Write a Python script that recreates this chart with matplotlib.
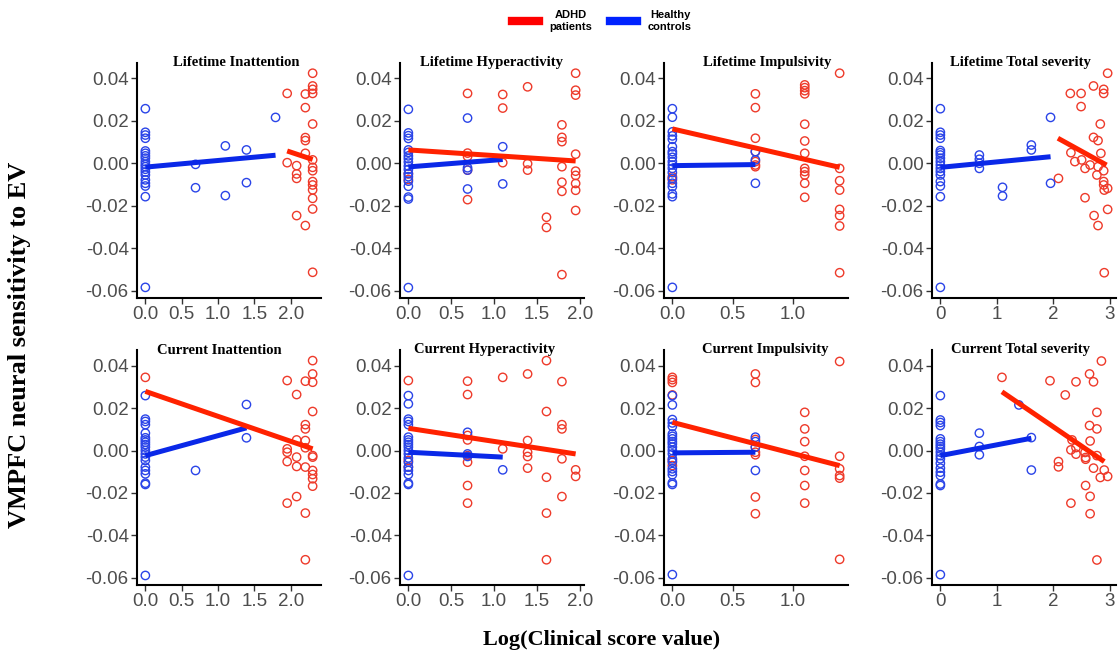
import matplotlib
matplotlib.use("Agg")
import matplotlib.pyplot as plt
from matplotlib.lines import Line2D

# ---------------- data ----------------
titles = ["Lifetime Inattention", "Lifetime Hyperactivity", "Lifetime Impulsivity",
          "Lifetime Total severity", "Current Inattention", "Current Hyperactivity",
          "Current Impulsivity", "Current Total severity"]

# Lifetime Inattention
li_in_hc_x = [0, 0, 0, 0, 0, 0, 0, 0, 0, 0, 0, 0, 0, 0, 0, 0, 0, 0, 0,
              0.69, 0.69, 1.10, 1.10, 1.39, 1.39, 1.79]
li_in_hc_y = [25.7, 14.6, 13.3, 11.8, 5.8, 4.7, 3.5, 2.4, 0.8, -0.5, -1.6, -2.8, -4.1, -5.5,
              -7.8, -9.4, -10.7, -15.7, -58.4, -0.5, -11.5, 8.2, -15.2, 6.3, -9.1, 21.6]
li_in_ad_x = [1.95, 1.95, 2.08, 2.08, 2.08, 2.08, 2.20, 2.20, 2.20, 2.20, 2.20, 2.20,
              2.30, 2.30, 2.30, 2.30, 2.30, 2.30, 2.30, 2.30, 2.30, 2.30, 2.30, 2.30, 2.30, 2.30]
li_in_ad_y = [32.9, 0.3, -1.1, -5.0, -7.1, -24.6, 32.6, 26.2, 12.1, 10.7, 4.7, -29.3,
              42.4, 36.4, 34.8, 32.9, 18.5, 1.6, -1.9, -3.5, -8.6, -10.2, -12.5, -16.5, -21.5, -51.3]
li_in_hc_fit = ([0, 1.79], [-1.8, 3.8])
li_in_ad_fit = ([1.95, 2.30], [5.8, 1.8])

# Lifetime Hyperactivity
li_hy_hc_x = [0, 0, 0, 0, 0, 0, 0, 0, 0, 0, 0, 0, 0, 0, 0, 0, 0, 0,
              0.69, 0.69, 0.69, 0.69, 1.10, 1.10]
li_hy_hc_y = [25.4, 14.3, 13.0, 11.7, 6.3, 5.1, 3.5, 2.2, 0.6, -1.3, -2.9, -4.8, -6.3, -8.4,
              -10.8, -15.9, -16.8, -58.5, 21.3, -2.1, -3.2, -12.1, 7.8, -9.7]
li_hy_ad_x = [0, 0, 0.69, 0.69, 0.69, 0.69, 0.69, 1.10, 1.10, 1.10, 1.39, 1.39, 1.39,
              1.61, 1.61, 1.79, 1.79, 1.79, 1.79, 1.79, 1.79, 1.79,
              1.95, 1.95, 1.95, 1.95, 1.95, 1.95, 1.95, 1.95, 1.95]
li_hy_ad_y = [-5.0, -7.6, 32.9, 4.8, 3.2, -3.2, -17.1, 32.4, 26.0, 0.3, 36.0, -0.2, -3.2,
              -25.4, -30.2, 18.1, 12.2, 10.2, -1.6, -8.9, -13.2, -52.4,
              42.4, 34.4, 32.1, 4.3, -3.7, -5.7, -9.5, -12.7, -22.2]
li_hy_hc_fit = ([0, 1.10], [-1.7, 1.8])
li_hy_ad_fit = ([0, 1.95], [6.3, 1.1])

# Lifetime Impulsivity
li_im_hc_x = [0, 0, 0, 0, 0, 0, 0, 0, 0, 0, 0, 0, 0, 0, 0, 0, 0, 0, 0, 0.69, 0.69, 0.69]
li_im_hc_y = [25.7, 21.7, 14.8, 12.9, 11.3, 7.8, 5.5, 4.4, 2.8, 0.8, -0.8, -2.4, -4.4, -7.1,
              -9.4, -11.0, -14.4, -15.7, -58.4, 5.5, 1.6, -9.4]
li_im_ad_x = [0, 0, 0.69, 0.69, 0.69, 0.69, 0.69, 0.69, 0.69,
              1.10, 1.10, 1.10, 1.10, 1.10, 1.10, 1.10, 1.10, 1.10, 1.10, 1.10, 1.10,
              1.39, 1.39, 1.39, 1.39, 1.39, 1.39, 1.39, 1.39]
li_im_ad_y = [-6.3, -7.8, 32.7, 26.2, 11.8, 5.5, 0.8, -0.8, -1.6,
              36.9, 35.6, 34.2, 32.7, 18.4, 10.5, 4.7, -2.4, -3.9, -5.5, -9.4, -16.0,
              42.4, -2.4, -8.2, -12.6, -21.7, -24.6, -29.5, -51.5]
li_im_hc_fit = ([0, 0.69], [-1.1, -0.6])
li_im_ad_fit = ([0, 1.39], [16.2, -1.9])

# Lifetime Total severity
li_to_hc_x = [0, 0, 0, 0, 0, 0, 0, 0, 0, 0, 0, 0, 0, 0, 0, 0, 0,
              0.69, 0.69, 0.69, 0.69, 1.10, 1.10, 1.61, 1.61, 1.95, 1.95]
li_to_hc_y = [25.7, 14.6, 13.3, 11.8, 6.0, 5.0, 3.9, 2.4, 0.8, -0.8, -2.4, -3.9, -5.5, -8.6,
              -10.7, -15.7, -58.4, 3.9, 1.9, 0.0, -2.4, -11.3, -15.4, 8.6, 6.3, 21.6, -9.4]
li_to_ad_x = [2.09, 2.30, 2.31, 2.38, 2.49, 2.49, 2.50, 2.56, 2.56, 2.65, 2.71, 2.71, 2.72,
              2.79, 2.79, 2.77, 2.79, 2.83, 2.84, 2.89, 2.89, 2.89, 2.89, 2.89, 2.90, 2.90,
              2.96, 2.96, 2.96]
li_to_ad_y = [-7.1, 32.9, 5.0, 0.8, 32.9, 26.7, 1.6, -2.4, -16.2, -0.8, 36.4, 12.2, -24.6,
              10.7, -1.6, -5.5, -29.3, 18.5, 4.7, 34.8, 32.9, -3.5, -8.6, -10.2, -12.6, -51.5,
              42.4, -11.8, -21.7]
li_to_hc_fit = ([0, 1.95], [-1.9, 3.1])
li_to_ad_fit = ([2.08, 2.94], [11.8, -0.8])

# Current Inattention
cu_in_hc_x = [0, 0, 0, 0, 0, 0, 0, 0, 0, 0, 0, 0, 0, 0, 0, 0, 0, 0, 0, 0, 0.69, 1.39, 1.39]
cu_in_hc_y = [25.9, 14.8, 13.7, 12.2, 8.2, 6.0, 5.0, 3.9, 2.8, 1.6, 0.0, -1.6, -3.1, -4.7,
              -7.8, -9.4, -11.0, -15.4, -16.0, -58.9, -9.4, 21.7, 6.0]
cu_in_ad_x = [0, 1.95, 1.95, 1.95, 1.95, 1.95, 2.08, 2.08, 2.08, 2.08, 2.08,
              2.20, 2.20, 2.20, 2.20, 2.20, 2.20, 2.20, 2.20,
              2.30, 2.30, 2.30, 2.30, 2.30, 2.30, 2.30, 2.30, 2.30, 2.30]
cu_in_ad_y = [34.5, 33.0, 0.8, -0.8, -5.2, -24.8, 26.4, 5.0, -3.1, -7.5, -21.7,
              32.7, 12.2, 10.2, 4.7, 1.3, -7.8, -29.5, -51.5,
              42.4, 36.1, 32.2, 18.4, -2.4, -3.1, -9.4, -11.3, -13.3, -16.8]
cu_in_hc_fit = ([0, 1.39], [-2.4, 10.7])
cu_in_ad_fit = ([0, 2.30], [27.9, 0.8])

# Current Hyperactivity
cu_hy_hc_x = [0, 0, 0, 0, 0, 0, 0, 0, 0, 0, 0, 0, 0, 0, 0, 0, 0, 0, 0, 0,
              0.69, 0.69, 0.69, 1.10]
cu_hy_hc_y = [25.9, 22.0, 14.8, 13.7, 12.2, 6.3, 5.0, 3.9, 2.8, 1.6, 0.0, -1.6, -3.5, -5.5,
              -7.8, -9.4, -11.3, -15.4, -16.0, -58.9, 8.6, -1.6, -2.8, -9.1]
cu_hy_ad_x = [0, 0, 0, 0.69, 0.69, 0.69, 0.69, 0.69, 0.69, 0.69, 0.69, 1.10, 1.10,
              1.39, 1.39, 1.39, 1.39, 1.39, 1.61, 1.61, 1.61, 1.61, 1.61,
              1.79, 1.79, 1.79, 1.79, 1.79, 1.95, 1.95]
cu_hy_ad_y = [33.0, -4.7, -7.8, 32.7, 26.4, 7.1, 5.0, -2.4, -5.5, -16.5, -24.8, 34.5, 0.8,
              36.1, 4.7, -0.8, -2.8, -8.3, 42.4, 18.4, -12.6, -29.5, -51.5,
              32.5, 12.2, 10.2, -3.9, -21.7, -9.1, -12.2]
cu_hy_hc_fit = ([0, 1.10], [-0.8, -3.1])
cu_hy_ad_fit = ([0, 1.95], [10.5, -1.6])

# Current Impulsivity
cu_im_hc_x = [0, 0, 0, 0, 0, 0, 0, 0, 0, 0, 0, 0, 0, 0, 0, 0, 0, 0, 0, 0, 0,
              0.69, 0.69, 0.69, 0.69]
cu_im_hc_y = [25.9, 21.5, 14.6, 13.0, 11.4, 7.8, 6.7, 5.5, 4.2, 3.1, 1.6, 0.0, -1.6, -3.9,
              -5.5, -8.6, -9.9, -11.4, -15.2, -16.0, -58.5, 6.3, 4.2, 1.6, -9.4]
cu_im_ad_x = [0, 0, 0, 0, 0, 0, 0.69, 0.69, 0.69, 0.69, 0.69, 0.69, 0.69, 0.69,
              1.10, 1.10, 1.10, 1.10, 1.10, 1.10, 1.10, 1.39, 1.39, 1.39, 1.39, 1.39, 1.39]
cu_im_ad_y = [34.5, 33.4, 32.1, 26.2, -4.7, -7.1, 36.1, 32.1, 5.2, 1.6, -0.8, -2.0, -21.9, -29.8,
              18.0, 10.2, 4.2, -2.7, -9.4, -16.5, -24.8, 42.0, -2.7, -8.6, -11.8, -13.0, -51.3]
cu_im_hc_fit = ([0, 0.69], [-1.1, -0.8])
cu_im_ad_fit = ([0, 1.39], [13.3, -7.1])

# Current Total severity
cu_to_hc_x = [0, 0, 0, 0, 0, 0, 0, 0, 0, 0, 0, 0, 0, 0, 0, 0, 0, 0, 0,
              0.69, 0.69, 0.69, 1.39, 1.61, 1.61]
cu_to_hc_y = [25.9, 14.4, 13.2, 11.8, 5.5, 4.2, 3.0, 1.9, 0.8, -0.8, -2.4, -3.9, -6.0, -8.3,
              -10.2, -11.8, -15.8, -16.5, -58.5, 8.2, 1.9, -2.0, 21.5, 6.1, -9.2]
cu_to_ad_x = [1.09, 1.94, 2.09, 2.09, 2.21, 2.31, 2.31, 2.33, 2.40, 2.40, 2.40, 2.56, 2.57,
              2.57, 2.57, 2.64, 2.64, 2.65, 2.65, 2.65, 2.71, 2.71, 2.77, 2.77, 2.77, 2.77,
              2.83, 2.85, 2.90, 2.96]
cu_to_ad_y = [34.5, 32.9, -5.2, -7.7, 26.2, -24.8, 0.3, 5.0, 32.4, 1.4, -1.7, -0.9, -3.3,
              -4.1, -16.5, 36.1, 11.8, 4.5, -21.6, -29.8, 32.4, -8.3, 18.0, 10.2, -2.4, -51.6,
              -12.7, 42.2, -9.2, -12.2]
cu_to_hc_fit = ([0, 1.61], [-2.4, 5.8])
cu_to_ad_fit = ([1.09, 2.90], [27.7, -5.2])

y_ticks = [0.04, 0.02, 0.00, -0.02, -0.04, -0.06]
y_tick_labels = ["0.04", "0.02", "0.00", "-0.02", "-0.04", "-0.06"]
x_ticks_dec = [0.0, 0.5, 1.0, 1.5, 2.0]
x_ticks_imp = [0.0, 0.5, 1.0]
x_ticks_tot = [0, 1, 2, 3]

legend_labels = ["ADHD\npatients", "Healthy\ncontrols"]

# values above are in units of 1e-3
SCALE = 0.001

panels = [
    (li_in_hc_x, li_in_hc_y, li_in_ad_x, li_in_ad_y, li_in_hc_fit, li_in_ad_fit, x_ticks_dec, "{:.1f}"),
    (li_hy_hc_x, li_hy_hc_y, li_hy_ad_x, li_hy_ad_y, li_hy_hc_fit, li_hy_ad_fit, x_ticks_dec, "{:.1f}"),
    (li_im_hc_x, li_im_hc_y, li_im_ad_x, li_im_ad_y, li_im_hc_fit, li_im_ad_fit, x_ticks_imp, "{:.1f}"),
    (li_to_hc_x, li_to_hc_y, li_to_ad_x, li_to_ad_y, li_to_hc_fit, li_to_ad_fit, x_ticks_tot, "{:d}"),
    (cu_in_hc_x, cu_in_hc_y, cu_in_ad_x, cu_in_ad_y, cu_in_hc_fit, cu_in_ad_fit, x_ticks_dec, "{:.1f}"),
    (cu_hy_hc_x, cu_hy_hc_y, cu_hy_ad_x, cu_hy_ad_y, cu_hy_hc_fit, cu_hy_ad_fit, x_ticks_dec, "{:.1f}"),
    (cu_im_hc_x, cu_im_hc_y, cu_im_ad_x, cu_im_ad_y, cu_im_hc_fit, cu_im_ad_fit, x_ticks_imp, "{:.1f}"),
    (cu_to_hc_x, cu_to_hc_y, cu_to_ad_x, cu_to_ad_y, cu_to_hc_fit, cu_to_ad_fit, x_ticks_tot, "{:d}"),
]

# ---------------- style ----------------
W, H = 1118, 654
RED_PT = "#EE3A2A"
BLUE_PT = "#2A44E8"
RED_LN = "#FF2200"
BLUE_LN = "#0A28E8"
TICK_GRAY = "#4D4D4D"
SERIF = ["Liberation Serif", "DejaVu Serif"]
SANS = ["Liberation Sans", "DejaVu Sans"]

col_left = [137, 400, 664, 932]
col_w = 184
row_top = [62.6, 350]
row_h = [235.4, 235]
title_xfrac = [0.54, 0.50, 0.56, 0.48, 0.45, 0.46, 0.55, 0.48]

fig = plt.figure(figsize=(W / 100, H / 100), dpi=100)
fig.patch.set_facecolor("white")

for i, (hx, hy, ax_, ay, hfit, afit, xt, fmt) in enumerate(panels):
    r, c = divmod(i, 4)
    left = col_left[c] / W
    bottom = 1 - (row_top[r] + row_h[r]) / H
    ax = fig.add_axes([left, bottom, col_w / W, row_h[r] / H])
    ax.scatter(ax_, [v * SCALE for v in ay], s=36, facecolors="none",
               edgecolors=RED_PT, linewidths=1.0, zorder=2)
    ax.scatter(hx, [v * SCALE for v in hy], s=36, facecolors="none",
               edgecolors=BLUE_PT, linewidths=1.0, zorder=2)
    ax.plot(hfit[0], [v * SCALE for v in hfit[1]], color=BLUE_LN, lw=3.6,
            solid_capstyle="butt", zorder=3)
    ax.plot(afit[0], [v * SCALE for v in afit[1]], color=RED_LN, lw=3.6,
            solid_capstyle="butt", zorder=4)
    ax.margins(x=0.05)
    ax.set_ylim(-0.0634, 0.0474)
    ax.set_yticks(y_ticks)
    ax.set_yticklabels(y_tick_labels)
    ax.set_xticks(xt)
    ax.set_xticklabels([fmt.format(t) for t in xt])
    for s in ["top", "right"]:
        ax.spines[s].set_visible(False)
    for s in ["left", "bottom"]:
        ax.spines[s].set_linewidth(1.5)
        ax.spines[s].set_color("black")
    ax.tick_params(axis="both", length=4, width=1.0, color="#333333",
                   labelsize=13.5, labelcolor=TICK_GRAY, pad=2)
    for lab in ax.get_xticklabels() + ax.get_yticklabels():
        lab.set_family(SANS)
    ax.text(title_xfrac[i], 1.0, titles[i], transform=ax.transAxes, ha="center",
            va="center", fontsize=10.5, fontweight="bold", family=SERIF, zorder=5)

fig.text(602 / W, 1 - 640 / H, "Log(Clinical score value)", ha="center", va="center",
         fontsize=16, fontweight="bold", family=SERIF)
fig.text(20 / W, 1 - 345 / H, "VMPFC neural sensitivity to EV", ha="center",
         va="center", rotation=90, fontsize=19, fontweight="bold", family=SERIF)

handles = [Line2D([0], [0], color="#FF0000", lw=6),
           Line2D([0], [0], color="#0022FF", lw=6)]
leg = fig.legend(handles, legend_labels, loc="upper center",
                 bbox_to_anchor=(602 / W, 1.0), ncol=2, frameon=False,
                 prop={"family": SANS, "weight": "bold", "size": 8},
                 handlelength=2.4, columnspacing=1.6, handletextpad=1.0)
for t in leg.get_texts():
    t.set_multialignment("center")

fig.savefig("out.png", dpi=100, facecolor="white")
